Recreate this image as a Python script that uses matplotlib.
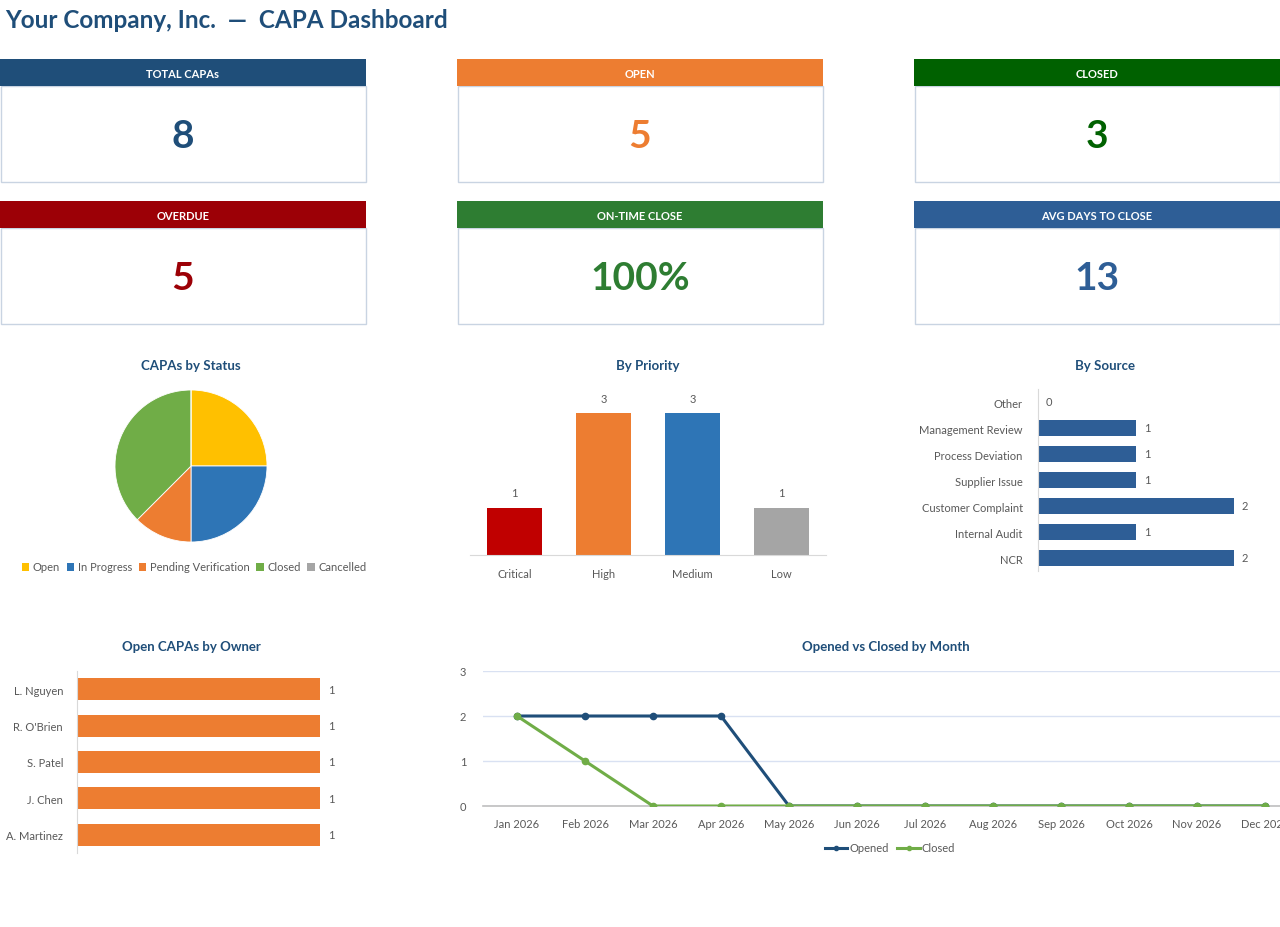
import matplotlib
matplotlib.use("Agg")
import matplotlib.pyplot as plt
from matplotlib.patches import Rectangle, Patch
from matplotlib.lines import Line2D

plt.rcParams['font.family'] = ['Lato', 'DejaVu Sans']

# ---- data ----
kpi_labels = ['TOTAL CAPAs', 'OPEN', 'CLOSED', 'OVERDUE', 'ON-TIME CLOSE', 'AVG DAYS TO CLOSE']
kpi_values = ['8', '5', '3', '5', '100%', '13']

status_labels = ['Open', 'In Progress', 'Pending Verification', 'Closed', 'Cancelled']
status_counts = [2, 2, 1, 3, 0]

priority_labels = ['Critical', 'High', 'Medium', 'Low']
priority_counts = [1, 3, 3, 1]

source_labels = ['NCR', 'Internal Audit', 'Customer Complaint', 'Supplier Issue',
                 'Process Deviation', 'Management Review', 'Other']
source_counts = [2, 1, 2, 1, 1, 1, 0]

owner_labels = ['A. Martinez', 'J. Chen', 'S. Patel', "R. O'Brien", 'L. Nguyen']
owner_counts = [1, 1, 1, 1, 1]

months = ['Jan 2026', 'Feb 2026', 'Mar 2026', 'Apr 2026', 'May 2026', 'Jun 2026',
          'Jul 2026', 'Aug 2026', 'Sep 2026', 'Oct 2026', 'Nov 2026', 'Dec 2026']
opened = [2, 2, 2, 2, 0, 0, 0, 0, 0, 0, 0, 0]
closed = [2, 1, 0, 0, 0, 0, 0, 0, 0, 0, 0, 0]

# ---- colours ----
NAVY = '#1F4E79'
ORANGE = '#ED7D31'
GRID = '#D9E1F2'
TICK = '#595959'
kpi_head = ['#1F4E79', '#ED7D31', '#006100', '#9C0006', '#2E7D32', '#2E5E96']
kpi_val = ['#1F4E79', '#ED7D31', '#006100', '#9C0006', '#2E7D32', '#2E5E96']
status_colors = ['#FFC000', '#2E75B6', '#ED7D31', '#70AD47', '#A5A5A5']
priority_colors = ['#C00000', '#ED7D31', '#2E75B6', '#A5A5A5']
FS = 8  # small text size

W, H = 1280, 928
fig = plt.figure(figsize=(W / 100, H / 100), dpi=100, facecolor='white')


def px(l, t, r, b):
    # pixel box -> figure fraction
    return [l / W, 1 - b / H, (r - l) / W, (b - t) / H]


# background layer in pixel coords
bg = fig.add_axes([0, 0, 1, 1])
bg.set_xlim(0, W)
bg.set_ylim(H, 0)
bg.axis('off')

bg.text(5, 21, 'Your Company, Inc.  \u2014  CAPA Dashboard', fontsize=17.5, fontweight='bold',
        color=NAVY, va='center', ha='left')

# KPI cards
card_x = [0, 457, 914]
card_y = [60, 202]
cw, hh, bh = 366, 27, 96
for i in range(6):
    x0 = card_x[i % 3]
    y0 = card_y[i // 3]
    bg.add_patch(Rectangle((x0 + 0.5, y0 + hh), cw - 1, bh, facecolor='white',
                           edgecolor='#C9D4E2', lw=1))
    bg.add_patch(Rectangle((x0, y0), cw, hh, facecolor=kpi_head[i], edgecolor='none'))
    bg.text(x0 + cw / 2, y0 + hh / 2 + 0.5, kpi_labels[i], color='white', fontsize=8,
            fontweight='bold', ha='center', va='center')
    bg.text(x0 + cw / 2, y0 + hh + bh / 2 + 2, kpi_values[i], color=kpi_val[i], fontsize=28,
            fontweight='bold', ha='center', va='center')

# chart titles
title_kw = dict(fontsize=9.5, fontweight='bold', color=NAVY, ha='center', va='center')
bg.text(191, 366, 'CAPAs by Status', **title_kw)
bg.text(648, 366, 'By Priority', **title_kw)
bg.text(1105, 366, 'By Source', **title_kw)
bg.text(191, 647, 'Open CAPAs by Owner', **title_kw)
bg.text(886, 647, 'Opened vs Closed by Month', **title_kw)

# ---- pie ----
ax = fig.add_axes(px(115, 391, 267, 543))
ax.pie(status_counts, colors=status_colors, startangle=90, counterclock=False, radius=1,
       wedgeprops=dict(edgecolor='white', linewidth=0.6))
ax.set_xlim(-1, 1)
ax.set_ylim(-1, 1)
handles = [Patch(facecolor=c, edgecolor='none') for c in status_colors]
fig.legend(handles, status_labels, loc='center', bbox_to_anchor=(194 / W, 1 - 568 / H),
           ncol=5, frameon=False, fontsize=FS, labelcolor=TICK, handlelength=0.7,
           handleheight=0.7, handletextpad=0.3, columnspacing=0.6)

# ---- priority ----
ax = fig.add_axes(px(470, 390, 826, 556))
ax.bar(range(len(priority_counts)), priority_counts, width=0.62, color=priority_colors)
for i, v in enumerate(priority_counts):
    ax.text(i, v + 0.2, str(v), ha='center', va='bottom', fontsize=FS, color=TICK)
ax.set_xlim(-0.5, 3.5)
ax.set_ylim(0, 3.51)
ax.set_xticks(range(len(priority_labels)))
ax.set_xticklabels(priority_labels, fontsize=FS, color=TICK)
ax.tick_params(axis='x', length=0, pad=9)
ax.set_yticks([])
for s in ['left', 'top', 'right']:
    ax.spines[s].set_visible(False)
ax.spines['bottom'].set_color('#D9D9D9')

# ---- source ----
ax = fig.add_axes(px(1038, 390, 1283, 572))
ax.barh(range(len(source_counts)), source_counts, height=0.6, color='#2E5E96')
for i, v in enumerate(source_counts):
    ax.text(v + 0.08, i, str(v), ha='left', va='center', fontsize=FS, color=TICK)
ax.set_xlim(0, 2.5)
ax.set_ylim(-0.5, 6.5)
ax.set_yticks(range(len(source_labels)))
ax.set_yticklabels(source_labels, fontsize=FS, color=TICK)
ax.tick_params(axis='y', length=0, pad=11)
ax.set_xticks([])
for s in ['bottom', 'top', 'right']:
    ax.spines[s].set_visible(False)
ax.spines['left'].set_color('#D9D9D9')

# ---- owner ----
ax = fig.add_axes(px(77, 672, 400, 854))
ax.barh(range(len(owner_counts)), owner_counts, height=0.6, color=ORANGE)
for i, v in enumerate(owner_counts):
    ax.text(v + 0.035, i, str(v), ha='left', va='center', fontsize=FS, color=TICK)
ax.set_xlim(0, 1.329)
ax.set_ylim(-0.5, 4.5)
ax.set_yticks(range(len(owner_labels)))
ax.set_yticklabels(owner_labels, fontsize=FS, color=TICK)
ax.tick_params(axis='y', length=0, pad=10)
ax.set_xticks([])
for s in ['bottom', 'top', 'right']:
    ax.spines[s].set_visible(False)
ax.spines['left'].set_color('#D9D9D9')

# ---- line ----
ax = fig.add_axes(px(483, 672, 1299, 807))
x = range(len(months))
ax.plot(x, opened, color=NAVY, lw=2.2, marker='o', ms=4.5, label='Opened', zorder=3)
ax.plot(x, closed, color='#70AD47', lw=2.2, marker='o', ms=4.5, label='Closed', zorder=4)
ax.set_xlim(-0.5, 11.5)
ax.set_ylim(0, 3)
ax.set_yticks([0, 1, 2, 3])
ax.set_xticks(list(x))
ax.set_xticklabels(months, fontsize=FS, color=TICK)
ax.tick_params(axis='y', labelsize=FS, labelcolor=TICK, length=0, pad=12)
ax.tick_params(axis='x', length=0, pad=9)
ax.grid(axis='y', color=GRID, lw=1)
ax.set_axisbelow(True)
for s in ['left', 'top', 'right']:
    ax.spines[s].set_visible(False)
ax.spines['bottom'].set_color('#BFBFBF')
ax.spines['bottom'].set_linewidth(1.2)
h = [Line2D([], [], color=NAVY, lw=2.2, marker='o', ms=3),
     Line2D([], [], color='#70AD47', lw=2.2, marker='o', ms=3)]
fig.legend(h, ['Opened', 'Closed'], loc='center', bbox_to_anchor=(890 / W, 1 - 849 / H),
           ncol=2, frameon=False, fontsize=FS, labelcolor=TICK, handlelength=2.0,
           handletextpad=0.2, columnspacing=0.8)

fig.savefig('out.png', dpi=100, facecolor='white')
